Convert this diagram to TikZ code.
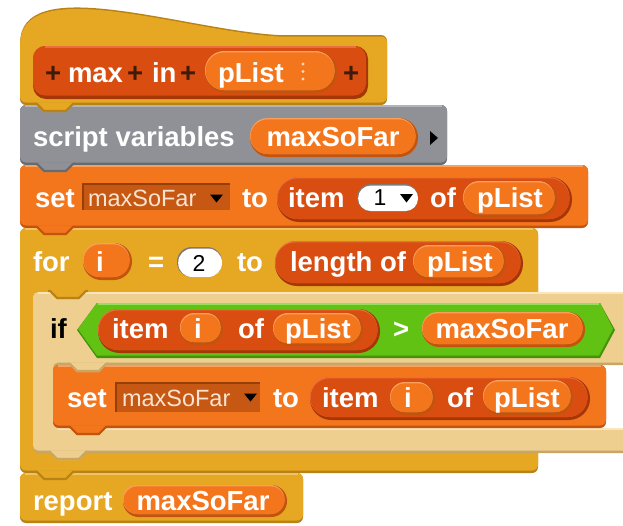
\documentclass[tikz,border=0pt]{standalone}
\usepackage{fontspec}
\setmainfont{Liberation Sans}

% block palette
\definecolor{ctrl}{RGB}{230,168,34}
\definecolor{ctrlD}{RGB}{184,130,22}
\definecolor{ctrlL}{RGB}{242,195,98}
\definecolor{zeb}{RGB}{238,207,143}
\definecolor{zebD}{RGB}{200,166,102}
\definecolor{zebL}{RGB}{248,229,190}
\definecolor{othr}{RGB}{143,145,150}
\definecolor{othrD}{RGB}{104,106,111}
\definecolor{othrL}{RGB}{178,180,184}
\definecolor{vars}{RGB}{243,118,29}
\definecolor{varsD}{RGB}{194,84,14}
\definecolor{varsL}{RGB}{250,160,95}
\definecolor{lists}{RGB}{217,77,17}
\definecolor{listsD}{RGB}{165,54,8}
\definecolor{listsL}{RGB}{232,112,62}
\definecolor{ops}{RGB}{98,194,19}
\definecolor{opsD}{RGB}{66,146,10}
\definecolor{opsL}{RGB}{150,222,92}
\definecolor{ddbox}{RGB}{198,88,20}
\definecolor{ddedge}{RGB}{150,62,8}
\definecolor{ddtxt}{RGB}{248,228,208}
\definecolor{slotedge}{RGB}{130,120,115}
\definecolor{ink}{RGB}{62,26,8}
\definecolor{dots}{RGB}{252,214,176}

% command block with bevel: left, top, right, bottom, colour
\newcommand\cmdbox[5]{%
  \fill[#5D, rounded corners=6pt] (#1,#2) rectangle (#3,#4);
  \fill[#5, rounded corners=6pt] (#1,#2) rectangle (#3,#4-2.5);
  \draw[#5L, line width=1.6pt] (#1+5,#2+0.8) -- (#3-5,#2+0.8);
}
% bottom tab of a block: block left, boundary y, colour
\newcommand\tabbump[3]{%
  \fill[#3] (#1+17,#2-2.6) -- (#1+53,#2-2.6) -- (#1+53,#2) -- (#1+46,#2+7) -- (#1+24,#2+7) -- (#1+17,#2) -- cycle;
  \draw[#3D, line width=2.2pt, line join=round] (#1+15,#2-1.1) -- (#1+17,#2-1.1) -- (#1+24,#2+5.9) -- (#1+46,#2+5.9) -- (#1+53,#2-1.1) -- (#1+55,#2-1.1);
}
% rounded reporter / variable blob
\newcommand\rpill[5]{%
  \pgfmathsetmacro\pradA{(#4-#2)/2-0.3}%
  \pgfmathsetmacro\pradB{(#4-#2-3)/2-0.3}%
  \pgfmathsetmacro\pradC{(#4-#2-4.4)/2-0.3}%
  \fill[#5D, rounded corners=\pradA pt] (#1,#2) rectangle (#3,#4);
  \fill[#5L, rounded corners=\pradB pt] (#1,#2) rectangle (#3-2.5,#4-3);
  \fill[#5, rounded corners=\pradC pt] (#1+0.6,#2+1.4) rectangle (#3-2.5,#4-3);
}
% white numeric input slot
\newcommand\wslot[4]{%
  \pgfmathsetmacro\pradA{(#4-#2)/2-0.3}%
  \pgfmathsetmacro\pradB{(#4-#2-1.6)/2-0.3}%
  \fill[slotedge, rounded corners=\pradA pt] (#1,#2) rectangle (#3,#4);
  \fill[white, rounded corners=\pradB pt] (#1+1.2,#2+1.6) rectangle (#3,#4);
}
% read-only variable menu slot
\newcommand\ddslot[4]{%
  \fill[ddedge] (#1,#2) rectangle (#3,#4);
  \fill[ddbox] (#1+1.5,#2+1.5) rectangle (#3,#4);
}

\tikzset{
  lbl/.style={anchor=base west, inner sep=0pt, outer sep=0pt, text=white,
              font=\fontsize{27.5}{30}\selectfont\bfseries},
  lblc/.style={lbl, anchor=base},
  inkl/.style={lbl, text=ink},
  ddtext/.style={anchor=base west, inner sep=0pt, outer sep=0pt, text=ddtxt,
                 font=\fontsize{23.5}{26}\selectfont},
  numtxt/.style={anchor=base, inner sep=0pt, outer sep=0pt, text=black,
                 font=\fontsize{23}{26}\selectfont},
}

\begin{document}
\begin{tikzpicture}[x=1pt,y=-1pt]
\useasboundingbox (0,0) rectangle (623,525);
\clip (0,0) rectangle (623,525);

% ---- hat block with the custom block prototype
\fill[ctrlD] (20,37) .. controls (40,-22) and (190,30) .. (278,35)
  [rounded corners=6pt] -- (387,35) -- (387,105) -- (20,105) -- cycle;
\fill[ctrl] (20,38.5) .. controls (40,-20.5) and (190,31.5) .. (278,36.5)
  [rounded corners=6pt] -- (387,36.5) -- (387,102.5) -- (20,102.5) -- cycle;
\fill[listsD, rounded corners=13pt] (33,46) rectangle (368,99);
\fill[lists, rounded corners=12pt] (33,46) rectangle (366,95.5);
\draw[listsL, line width=1.4pt] (45,47) -- (356,47);
\rpill{205}{51}{337}{93}{vars}
\fill[dots] (303,64) circle[radius=1.7pt] (303,71.5) circle[radius=1.7pt] (303,79) circle[radius=1.7pt];

% ---- script variables
\cmdbox{20}{105}{447}{165}{othr}
\tabbump{20}{105}{ctrl}
\rpill{250}{118}{418}{157}{vars}
\fill[black] (430,131) -- (438,138) -- (430,145) -- cycle;

% ---- set maxSoFar to item 1 of pList
\cmdbox{20}{165}{588}{228}{vars}
\tabbump{20}{165}{othr}
\ddslot{82}{183}{230}{210}
\fill[black] (210,194.5) -- (223,194.5) -- (216.5,202.5) -- cycle;
\rpill{277}{177}{572}{222}{lists}
\wslot{357}{184}{418}{211}
\fill[black] (400,194) -- (413,194) -- (406.5,202.5) -- cycle;
\rpill{463}{181}{557}{217}{vars}

% ---- for loop
\cmdbox{20}{228}{538}{473}{ctrl}
\tabbump{20}{228}{vars}
\rpill{83}{243}{132}{280}{vars}
\wslot{177}{247}{222}{277}
\rpill{275}{241}{523}{286}{lists}
\rpill{413}{245}{506}{280}{vars}

% ---- if block (C shape)
\fill[zebD, rounded corners=5pt] (33,292) -- (650,292) -- (650,365) -- (53,365)
  -- (53,428) -- (650,428) -- (650,453) -- (33,453) -- cycle;
\fill[zeb, rounded corners=5pt] (33,292) -- (650,292) -- (650,362.5) -- (53,362.5)
  -- (53,428) -- (650,428) -- (650,450.5) -- (33,450.5) -- cycle;
\draw[zebL, line width=1.6pt] (38,292.8) -- (650,292.8);
\draw[zebL, line width=1.6pt] (58,428.8) -- (650,428.8);
\tabbump{33}{292}{ctrl}

% predicate: item i of pList > maxSoFar
\fill[opsD] (77,330) -- (97,303) -- (600,303) -- (615,330) -- (600,358) -- (97,358) -- cycle;
\fill[ops] (78,329) -- (97,303) -- (600,303) -- (613,329) -- (599,355.5) -- (97,355.5) -- cycle;
\draw[opsL, line width=1.4pt] (98,304) -- (599,304);
\rpill{98}{309}{380}{353}{lists}
\rpill{180}{313}{223}{345}{vars}
\rpill{273}{313}{363}{346}{vars}
\rpill{422}{312}{585}{347}{vars}

% ---- set maxSoFar to item i of pList
\cmdbox{53}{365}{606}{428}{vars}
\tabbump{53}{365}{zeb}
\tabbump{53}{428}{vars}
\ddslot{115}{382}{260}{412}
\fill[black] (244,393.5) -- (257,393.5) -- (250.5,401.5) -- cycle;
\rpill{310}{377}{590}{420}{lists}
\rpill{390}{382}{435}{415}{vars}
\rpill{483}{380}{573}{415}{vars}

\tabbump{33}{453}{zeb}

% ---- report maxSoFar
\cmdbox{20}{473}{303}{523}{ctrl}
\tabbump{20}{473}{ctrl}
\rpill{123}{485}{287}{517}{vars}

% ---- labels
\node[inkl] (plus1) at (45,82) {+};
\node[lbl] (wmax) at (68,82) {max};
\node[inkl] (plus2) at (127,82) {+};
\node[lbl] (win) at (152,82) {in};
\node[inkl] (plus3) at (180,82) {+};
\node[lbl] (param) at (218,82) {pList};
\node[inkl] (plus4) at (343,82) {+};

\node[lbl] (svars) at (33,146) {script variables};
\node[lblc] (svname) at (333,146) {maxSoFar};

\node[lbl] (setA) at (35,207) {set};
\node[ddtext] (ddA) at (88,206) {maxSoFar};
\node[lbl] (toA) at (242,207) {to};
\node[lbl] (itemA) at (288,207) {item};
\node[numtxt] (numone) at (380,205) {1};
\node[lbl] (ofA) at (430,207) {of};
\node[lblc] (plA) at (510,207) {pList};

\node[lbl] (kwfor) at (33,271) {for};
\node[lblc] (loopvar) at (100,271) {i};
\node[lbl] (eqsign) at (148,271) {=};
\node[numtxt] (numtwo) at (199,271) {2};
\node[lbl] (toB) at (237,271) {to};
\node[lbl] (lenof) at (290,271) {length of};
\node[lblc] (plB) at (460,271) {pList};

\node[lbl, text=black] (kwif) at (50,338) {if};
\node[lbl] (itemB) at (112,338) {item};
\node[lblc] (ivB) at (198,338) {i};
\node[lbl] (ofB) at (238,338) {of};
\node[lblc] (plC) at (318,338) {pList};
\node[lbl] (gtsign) at (393,338) {>};
\node[lblc] (mxB) at (502,338) {maxSoFar};

\node[lbl] (setB) at (67,407) {set};
\node[ddtext] (ddB) at (122,406) {maxSoFar};
\node[lbl] (toC) at (273,407) {to};
\node[lbl] (itemC) at (322,407) {item};
\node[lblc] (ivC) at (408,407) {i};
\node[lbl] (ofC) at (447,407) {of};
\node[lblc] (plD) at (527,407) {pList};

\node[lbl] (kwreport) at (33,510) {report};
\node[lblc] (mxC) at (203,510) {maxSoFar};
\end{tikzpicture}
\end{document}
